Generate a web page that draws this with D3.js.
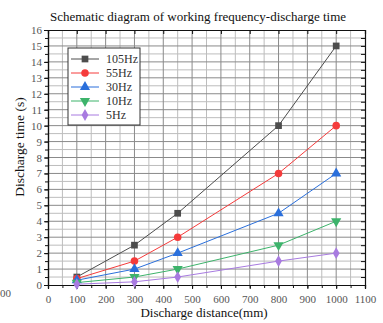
<!DOCTYPE html>
<html>
<head>
<meta charset="utf-8" />
<script src="https://d3js.org/d3.v7.min.js"></script>
<style>
  body { margin: 0; background: #fff; }
</style>
</head>
<body>
<svg width="383" height="323"></svg>
<script>
const distance = [100, 300, 450, 800, 1000]
const seriesNames = ['105Hz', '55Hz', '30Hz', '10Hz', '5Hz']
const hz105 = [0.5, 2.5, 4.5, 10, 15]
const hz55 = [0.4, 1.5, 3, 7, 10]
const hz30 = [0.3, 1, 2, 4.5, 7]
const hz10 = [0.15, 0.5, 1, 2.5, 4]
const hz5 = [0.05, 0.2, 0.5, 1.5, 2]
const xTicks = d3.range(0, 1101, 100)
const yTicks = d3.range(0, 17, 1)

const colors = ['#4d4d4d', '#f53b3b', '#2a6fdb', '#3db36b', '#a87be0']
const symbols = [d3.symbolSquare, d3.symbolCircle, d3.symbolTriangle, d3.symbolTriangle, d3.symbolDiamond]
const values = [hz105, hz55, hz30, hz10, hz5]
const FONT = 'Liberation Serif'

const svg = d3.select('svg')
const mLeft = 48, mRight = 365, mTop = 30, mBottom = 285

const x = d3.scaleLinear().domain([0, 1100]).range([mLeft, mRight])
const y = d3.scaleLinear().domain([0, 16]).range([mBottom, mTop])

// grid
const grid = svg.append('g')
d3.range(50, 1100, 100).forEach(v => {
    grid.append('line').attr('x1', x(v)).attr('x2', x(v)).attr('y1', mTop).attr('y2', mBottom)
        .style('stroke', '#bdbdbd').style('stroke-width', 1)
})
d3.range(0.5, 16, 1).forEach(v => {
    grid.append('line').attr('x1', mLeft).attr('x2', mRight).attr('y1', y(v)).attr('y2', y(v))
        .style('stroke', '#bdbdbd').style('stroke-width', 1)
})
xTicks.slice(1, -1).forEach(v => {
    grid.append('line').attr('x1', x(v)).attr('x2', x(v)).attr('y1', mTop).attr('y2', mBottom)
        .style('stroke', '#8a8a8a').style('stroke-width', 1)
})
yTicks.slice(1, -1).forEach(v => {
    grid.append('line').attr('x1', mLeft).attr('x2', mRight).attr('y1', y(v)).attr('y2', y(v))
        .style('stroke', '#8a8a8a').style('stroke-width', 1)
})

// axes
const styleAxis = g => {
    g.attr('font-family', FONT)
    g.select('.domain').style('stroke', '#111').style('stroke-width', 1.2)
    g.selectAll('.tick line').style('stroke', '#111')
    g.selectAll('text').style('font-family', FONT).style('font-size', '11px').style('fill', '#555')
}
svg.append('g').attr('transform', `translate(0,${mBottom})`)
    .call(d3.axisBottom(x).tickValues(d3.range(0, 1101, 50)).tickSize(3).tickFormat(''))
    .call(styleAxis)
svg.append('g').attr('transform', `translate(0,${mBottom})`)
    .call(d3.axisBottom(x).tickValues(xTicks).tickSize(4).tickPadding(6).tickFormat(d3.format('d')))
    .call(styleAxis)
svg.append('g').attr('transform', `translate(${mLeft},0)`)
    .call(d3.axisLeft(y).tickValues(d3.range(0, 16.1, 0.5)).tickSize(3).tickFormat(''))
    .call(styleAxis)
svg.append('g').attr('transform', `translate(${mLeft},0)`)
    .call(d3.axisLeft(y).tickValues(yTicks).tickSize(4).tickPadding(2).tickFormat(d3.format('d')))
    .call(styleAxis)
svg.append('g').attr('transform', `translate(0,${mTop})`)
    .call(d3.axisBottom(x).tickValues(xTicks).tickSize(4).tickFormat(''))
    .call(styleAxis)
svg.append('g').attr('transform', `translate(${mRight},0)`)
    .call(d3.axisLeft(y).tickValues(d3.range(0, 16.1, 0.5)).tickSize(4).tickFormat(''))
    .call(styleAxis)

// series
const line = d3.line().x((d, i) => x(distance[i])).y(d => y(d))
values.forEach((vals, s) => {
    svg.append('path').datum(vals).attr('d', line)
        .style('fill', 'none').style('stroke', colors[s]).style('stroke-width', 1)
    svg.selectAll(null).data(vals).enter().append('path')
        .attr('d', d3.symbol().type(symbols[s]).size(s === 4 ? 40 : 45))
        .attr('transform', (d, i) => `translate(${x(distance[i])},${y(d)})${s === 3 ? ' rotate(180)' : ''}`)
        .style('fill', colors[s])
})

// legend
const legend = svg.append('g')
legend.append('rect').attr('x', 68).attr('y', 48).attr('width', 72).attr('height', 77)
    .style('fill', '#fff').style('stroke', '#333').style('stroke-width', 1)
seriesNames.forEach((name, s) => {
    const ly = 59 + s * 14
    legend.append('line').attr('x1', 71).attr('x2', 99).attr('y1', ly).attr('y2', ly)
        .style('stroke', colors[s]).style('stroke-width', 1)
    legend.append('path')
        .attr('d', d3.symbol().type(symbols[s]).size(s === 4 ? 40 : 45))
        .attr('transform', `translate(85,${ly})${s === 3 ? ' rotate(180)' : ''}`)
        .style('fill', colors[s])
    legend.append('text').attr('x', 106).attr('y', ly + 4).text(name)
        .style('font-family', FONT).style('font-size', '12px').style('fill', '#333')
})

// titles
svg.append('text').attr('x', 198).attr('y', 21).attr('text-anchor', 'middle')
    .style('font-family', FONT).style('font-size', '13px').style('fill', '#111')
    .text('Schematic diagram of working frequency-discharge time')
svg.append('text').attr('transform', 'translate(24,147) rotate(-90)')
    .attr('text-anchor', 'middle').style('font-family', FONT).style('font-size', '13.5px').style('fill', '#111')
    .text('Discharge time (s)')
svg.append('text').attr('x', 204).attr('y', 317).attr('text-anchor', 'middle')
    .style('font-family', FONT).style('font-size', '13px').style('fill', '#111')
    .text('Discharge distance(mm)')
svg.append('text').attr('x', 0).attr('y', 297).style('font-family', FONT)
    .style('font-size', '11px').style('fill', '#555').text('00')
</script>
</body>
</html>
